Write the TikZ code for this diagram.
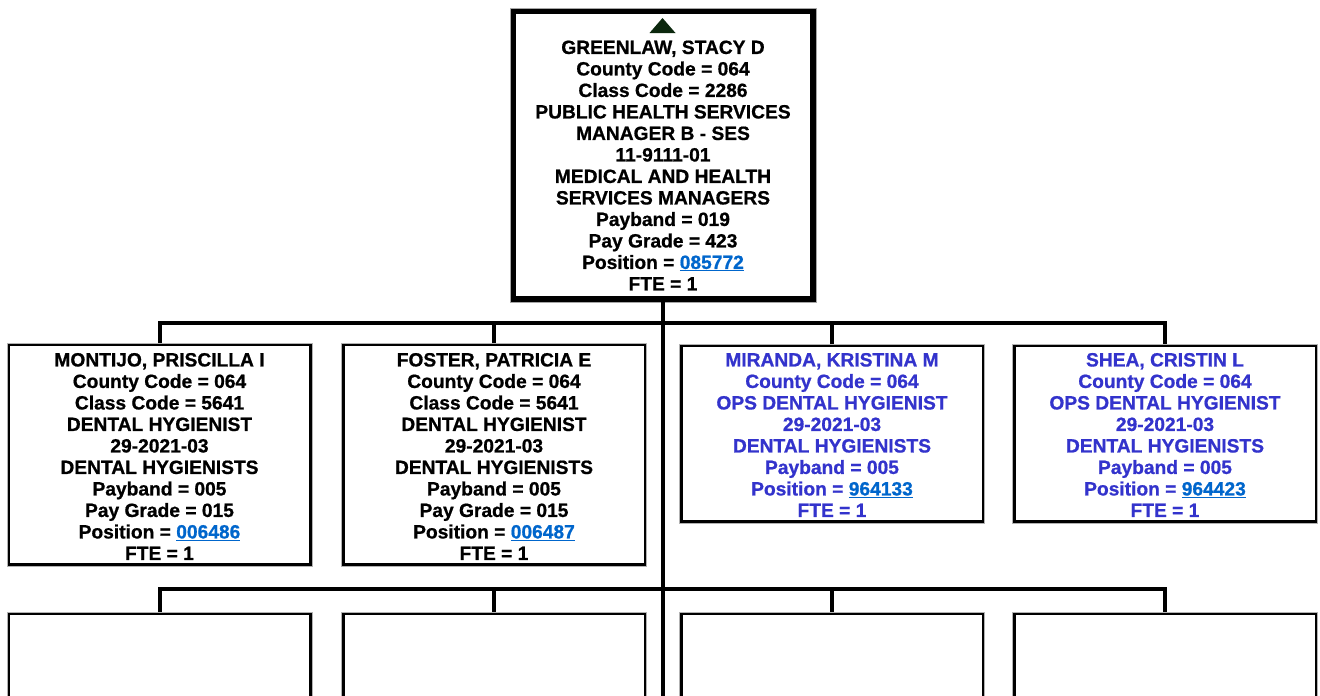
\documentclass[tikz,border=0pt]{standalone}
\usepackage{fontspec}
\setmainfont{Liberation Sans}[BoldFeatures={FakeBold=0.8}]
\usetikzlibrary{calc}
\definecolor{opsblue}{RGB}{51,51,204}
\definecolor{linkblue}{RGB}{0,102,204}
\definecolor{markgreen}{RGB}{12,40,14}
\newcommand{\poslink}[1]{\textcolor{linkblue}{\underline{#1}}}
\tikzset{
  mainbox/.style={draw=black, line width=6pt, fill=white, minimum width=300pt, minimum height=288pt, inner sep=0pt},
  mainedge/.style={draw=gray!70, line width=0.8pt},
  staffbox/.style={draw=black, line width=3pt, fill=white, minimum width=302pt, inner sep=0pt},
  staffedge/.style={draw=gray!60, line width=0.6pt},
  label/.style={align=center, inner sep=0pt, font=\fontsize{19.2pt}{21.5pt}\selectfont\bfseries},
  opslabel/.style={label, text=opsblue},
  conn/.style={draw=black, line width=4pt, line join=miter}
}
\begin{document}
\begin{tikzpicture}[x=1pt, y=-1pt]
\useasboundingbox (0,0) rectangle (1320,696);
\clip (0,0) rectangle (1320,696);

% supervisor
\node[mainbox] (boss) at (663,155) {};
\draw[mainedge] (boss.north west) rectangle (boss.south east);
\fill[white] (647,13.5) rectangle (677,17);
\fill[markgreen] (649.5,33) -- (662.5,18) -- (675.5,33) -- cycle;
\node[label] (bosstext) at ([yshift=-10.5pt]boss.center) {GREENLAW, STACY D\\County Code = 064\\Class Code = 2286\\PUBLIC HEALTH SERVICES\\MANAGER B - SES\\11-9111-01\\MEDICAL AND HEALTH\\SERVICES MANAGERS\\Payband = 019\\Pay Grade = 423\\Position = \poslink{085772}\\FTE = 1};

% direct reports
\node[staffbox, minimum height=220pt] (c1) at (159.5,454.5) {};
\node[staffbox, minimum height=220pt] (c2) at (494,454.5) {};
\node[staffbox, minimum height=176pt] (c3) at (832,433.5) {};
\node[staffbox, minimum height=176pt] (c4) at (1165,433.5) {};
\foreach \b in {c1,c2,c3,c4}{
  \draw[staffedge] (\b.north west) rectangle (\b.south east);
}
\node[label] (c1text) at ([yshift=-2pt]c1.center) {MONTIJO, PRISCILLA I\\County Code = 064\\Class Code = 5641\\DENTAL HYGIENIST\\29-2021-03\\DENTAL HYGIENISTS\\Payband = 005\\Pay Grade = 015\\Position = \poslink{006486}\\FTE = 1};
\node[label] (c2text) at ([yshift=-2pt]c2.center) {FOSTER, PATRICIA E\\County Code = 064\\Class Code = 5641\\DENTAL HYGIENIST\\29-2021-03\\DENTAL HYGIENISTS\\Payband = 005\\Pay Grade = 015\\Position = \poslink{006487}\\FTE = 1};
\node[opslabel] (c3text) at ([yshift=-1.5pt]c3.center) {MIRANDA, KRISTINA M\\County Code = 064\\OPS DENTAL HYGIENIST\\29-2021-03\\DENTAL HYGIENISTS\\Payband = 005\\Position = \poslink{964133}\\FTE = 1};
\node[opslabel] (c4text) at ([yshift=-1.5pt]c4.center) {SHEA, CRISTIN L\\County Code = 064\\OPS DENTAL HYGIENIST\\29-2021-03\\DENTAL HYGIENISTS\\Payband = 005\\Position = \poslink{964423}\\FTE = 1};

% lower row
\node[staffbox, minimum height=160pt] (d1) at (159.5,693.5) {};
\node[staffbox, minimum height=160pt] (d2) at (494,693.5) {};
\node[staffbox, minimum height=160pt] (d3) at (832,693.5) {};
\node[staffbox, minimum height=160pt] (d4) at (1165,693.5) {};
\foreach \b in {d1,d2,d3,d4}{
  \draw[staffedge] (\b.north west) rectangle (\b.south east);
}

% connectors
\coordinate (j1) at (663,323);
\coordinate (j2) at (663,589);
\coordinate (trunkend) at (663,700);
\draw[conn] (boss.south) -- (trunkend);
\draw[conn] (c1.north) |- (j1) -| (c4.north);
\draw[conn] (c2.north) -- (c2.north |- j1);
\draw[conn] (c3.north) -- (c3.north |- j1);
\draw[conn] (d1.north) |- (j2) -| (d4.north);
\draw[conn] (d2.north) -- (d2.north |- j2);
\draw[conn] (d3.north) -- (d3.north |- j2);
\end{tikzpicture}
\end{document}
